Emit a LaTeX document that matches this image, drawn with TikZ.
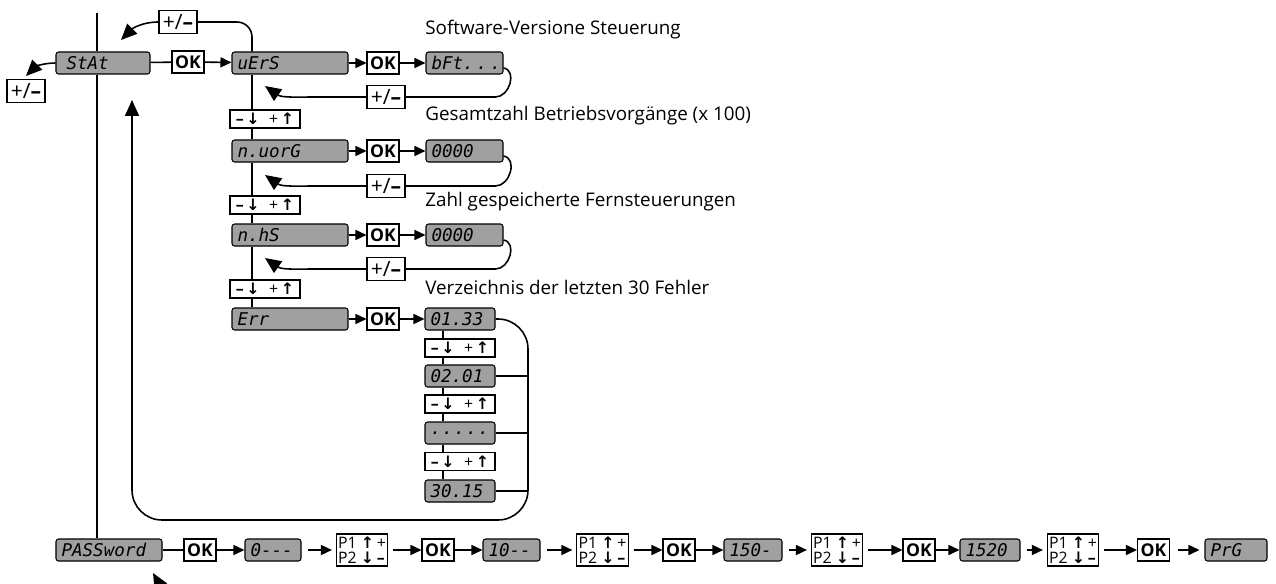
\documentclass[tikz,border=0pt]{standalone}
\usepackage{fontspec}
\setmainfont{Open Sans}
\newfontfamily\lcd{DejaVu Sans Mono}
\newfontfamily\sym{DejaVu Sans}
\usetikzlibrary{arrows.meta,positioning}
\definecolor{lcdgray}{RGB}{160,160,160}

\tikzset{
  lcd/.style={draw,fill=lcdgray,rounded corners=1.5pt,line width=.6pt,minimum height=4.4mm,inner xsep=1.1mm,inner ysep=0pt,text width=#1,align=left,font=\lcd\itshape\normalsize},
  okbox/.style={draw,fill=white,line width=.6pt,minimum width=6.4mm,minimum height=4.4mm,inner sep=0pt,font=\bfseries\normalsize},
  pmbox/.style={draw,fill=white,line width=.6pt,minimum width=7.6mm,minimum height=4.6mm,inner sep=0pt,font=\large},
  keybox/.style={draw,fill=white,line width=.6pt,minimum width=14mm,minimum height=3.6mm,inner sep=0pt,font=\small},
  pbox/.style={draw,fill=white,line width=.6pt,minimum width=10.2mm,minimum height=6.4mm,inner sep=1pt,align=left,font=\small\linespread{0.8}\selectfont},
  wire/.style={line width=.9pt},
  flow/.style={line width=.9pt,-{Triangle[length=2.2mm,width=2mm]}},
  ret/.style={line width=.9pt,-{Triangle[length=3.2mm,width=2.8mm]}},
  caption/.style={anchor=west,inner sep=0pt,font=\fontsize{10.7}{13}\selectfont}
}
\newcommand{\keys}{{\bfseries –}\,{\sym\bfseries↓}\hspace{.6em}+\,{\sym\bfseries↑}}
\newcommand{\pkeys}{P1 {\sym\bfseries↑}\,+\\P2 {\sym\bfseries↓}\,{\bfseries –}}
\newcommand{\plmi}{+/{\bfseries –}}

\begin{document}
\begin{tikzpicture}[x=0.2mm,y=-0.2mm]
\clip (0,0) rectangle (1276,584);
\coordinate (top) at (97,13);
\coordinate (sp) at (252,0);
\coordinate (ex) at (443,0);
\coordinate (rx) at (528,0);
\coordinate (tip0) at (26,76);
\coordinate (tipA) at (121,40);
\coordinate (tip1) at (265,86);
\coordinate (tip2) at (265,175);
\coordinate (tip3) at (265,258);
\coordinate (tipU) at (132,100);
% menu column
\node[lcd=16.6mm] (stat) at (103,63) {\hspace{1mm}StAt};
\node[okbox] (ok1) at (188,62) {OK};
\node[lcd=21mm] (vers) at (290,63) {uErS};
\node[okbox] (ok2) at (383,63) {OK};
\node[lcd=13.2mm] (bft) at (464.5,63) {\mbox{bFt.\,.\,.}};
\node[caption] (cap1) at (425,30) {Software-Versione Steuerung};
\node[pmbox] (pm0) at (178,22) {\plmi};
\node[pmbox] (pmS) at (26,91) {\plmi};
\node[pmbox] (pm1) at (386,97) {\plmi};
\node[keybox] (key1) at (265,119) {\keys};
\node[caption] (cap2) at (425,116) {Gesamtzahl Betriebsvorgänge (x 100)};
\node[lcd=21mm] (nvorg) at (290,151) {n.uorG};
\node[okbox] (ok3) at (383,151) {OK};
\node[lcd=13.2mm] (cnt1) at (464.5,151) {0000};
\node[pmbox] (pm2) at (386,186) {\plmi};
\node[keybox] (key2) at (265,205) {\keys};
\node[caption] (cap3) at (425,202) {Zahl gespeicherte Fernsteuerungen};
\node[lcd=21mm] (nhs) at (290,235) {n.hS};
\node[okbox] (ok4) at (383,235) {OK};
\node[lcd=13.2mm] (cnt2) at (464.5,235) {0000};
\node[pmbox] (pm3) at (386,269) {\plmi};
\node[keybox] (key3) at (265,289) {\keys};
\node[caption] (cap4) at (425,287) {Verzeichnis der letzten 30 Fehler};
\node[lcd=21mm] (err) at (290,319) {Err};
\node[okbox] (ok5) at (383,319) {OK};
% error list
\node[lcd=11.8mm] (e1) at (460,319) {01.33};
\node[keybox] (ek1) at (460,348) {\keys};
\node[lcd=11.8mm] (e2) at (460,376) {02.01};
\node[keybox] (ek2) at (460,404) {\keys};
\node[lcd=11.8mm] (e3) at (460,433) {\mbox{.\kern.8pt.\kern.8pt.\kern.8pt.\kern.8pt.}};
\node[keybox] (ek3) at (460,461.5) {\keys};
\node[lcd=11.8mm] (e4) at (460,491) {30.15};
% password row
\node[lcd=19mm] (pass) at (109,550) {PASSword};
\node[okbox] (ok6) at (200,550) {OK};
\node[lcd=9mm] (c1) at (273,550) {\mbox{0---}};
\node[pbox] (p1) at (362,550) {\pkeys};
\node[okbox] (ok7) at (438,550) {OK};
\node[lcd=9.2mm] (c2) at (511.5,550) {\mbox{10--}};
\node[pbox] (p2) at (602.5,550) {\pkeys};
\node[okbox] (ok8) at (679,550) {OK};
\node[lcd=9.4mm] (c3) at (753,550) {\mbox{150-}};
\node[pbox] (p3) at (837,550) {\pkeys};
\node[okbox] (ok9) at (919,550) {OK};
\node[lcd=9.8mm] (c4) at (990,550) {1520};
\node[pbox] (p4) at (1073,550) {\pkeys};
\node[okbox] (ok10) at (1153.5,550) {OK};
\node[lcd=10.2mm] (c5) at (1236,550) {PrG};

% spine
\draw[wire] (top) -- (stat.north -| top);
\draw[wire] (stat.south -| top) -- (pass.north -| top);
\draw[wire] (stat) -- (ok1);
\draw[flow] (ok1) -- (vers);
\draw[ret] (stat.west) to[out=180,in=45] (tip0);
\draw[wire,rounded corners=3mm] (vers.north -| sp) |- (pm0.east);
\draw[ret] (pm0.west) to[out=180,in=45] (tipA);
\foreach \a/\b in {vers/key1,key1/nvorg,nvorg/key2,key2/nhs,nhs/key3,key3/err}
  \draw[wire] (\a.south -| sp) -- (\b.north -| sp);
\foreach \a/\b/\c in {vers/ok2/bft,nvorg/ok3/cnt1,nhs/ok4/cnt2,err/ok5/e1}{
  \draw[flow] (\a) -- (\b);
  \draw[flow] (\b) -- (\c);
}
% back with +/-
\foreach \c/\p/\t in {bft/pm1/tip1,cnt1/pm2/tip2,cnt2/pm3/tip3}{
  \draw[wire] ([yshift=-1mm]\c.east) to[out=-10,in=0,looseness=1.2] ([xshift=18mm]\p.east) -- (\p.east);
  \draw[ret] (\p.west) -- ([xshift=-10mm]\p.west) to[out=180,in=-35] (\t);
}
% error list
\foreach \a/\b in {e1/ek1,ek1/e2,e2/ek2,ek2/e3,e3/ek3,ek3/e4}
  \draw[wire] (\a.south -| ex) -- (\b.north -| ex);
\foreach \b in {e2,e3,e4}
  \draw[wire] (\b.east) -- (\b.east -| rx);
\draw[ret,rounded corners=6mm] (e1.east) -- (e1.east -| rx) -- (528,520) -- (132,520) -- (tipU);
% password row
\draw[wire] (pass) -- (ok6);
\foreach \o/\c in {ok6/c1,ok7/c2,ok8/c3,ok9/c4}
  \draw[flow] (\o) -- (\c);
\draw[flow,shorten <=1.6mm,shorten >=1mm] (ok10) -- (c5);
\foreach \c/\p in {c1/p1,c2/p2,c3/p3,c4/p4}
  \draw[flow,shorten <=1.2mm,shorten >=0.8mm] (\c) -- (\p);
\foreach \p/\o in {p1/ok7,p2/ok8,p3/ok9,p4/ok10}
  \draw[flow,shorten <=1mm] (\p) -- (\o);
\draw[ret] (175,612) -- (153,573);
\end{tikzpicture}
\end{document}
